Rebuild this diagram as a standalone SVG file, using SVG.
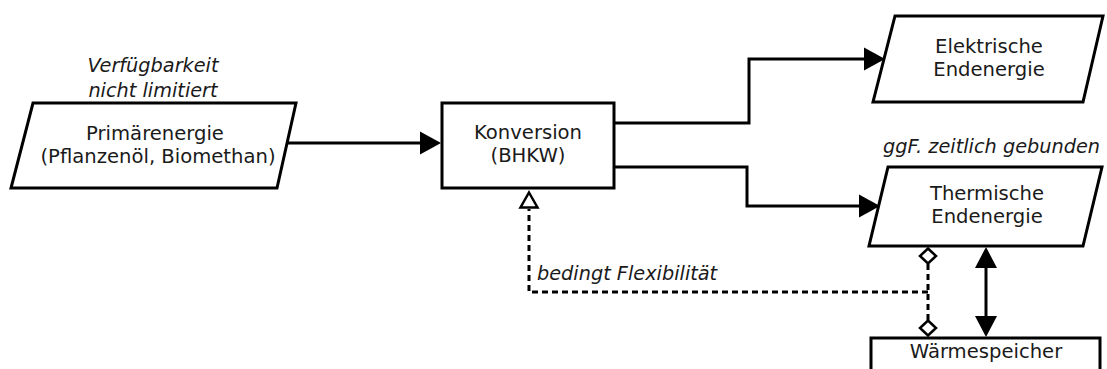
<svg xmlns="http://www.w3.org/2000/svg" width="1107" height="369" viewBox="0 0 1107 369">
  <style>
    .shape { fill: #ffffff; stroke: #000000; stroke-width: 3; stroke-linejoin: miter; }
    .label { font-family: "DejaVu Sans", "Liberation Sans", sans-serif; font-size: 19.6px; fill: #1a1a1a; text-anchor: middle; }
    .note { font-family: "DejaVu Sans", "Liberation Sans", sans-serif; font-size: 19.3px; font-style: italic; fill: #1a1a1a; }
    .flow { fill: none; stroke: #000000; stroke-width: 3; }
    .dep { fill: none; stroke: #000000; stroke-width: 3; stroke-dasharray: 6 4; }
    .head { fill: #000000; stroke: none; }
    .open { fill: #ffffff; stroke: #000000; stroke-width: 2.5; }
  </style>

  <!-- connectors -->
  <g id="connectors">
    <!-- primary energy into conversion -->
    <path class="flow" d="M287,143 H422"/>
    <polygon class="head" points="441,143 420,131.5 420,154.5"/>
    <!-- conversion to electrical end energy -->
    <path class="flow" d="M614,123 H749 V59 H866"/>
    <polygon class="head" points="885,59 864,47.5 864,70.5"/>
    <!-- conversion to thermal end energy -->
    <path class="flow" d="M614,167 H747 V206 H861"/>
    <polygon class="head" points="880,206 859,194.5 859,217.5"/>
    <!-- thermal end energy <-> heat storage -->
    <path class="flow" d="M986,266 V319"/>
    <polygon class="head" points="986,247 975,268 997,268"/>
    <polygon class="head" points="986,337 975,316 997,316"/>
    <!-- dependency back to conversion -->
    <path class="dep" d="M928,264 V320"/>
    <path class="dep" d="M928,292 H529 V209"/>
    <polygon class="open" points="529,192.5 537.5,207.5 520.5,207.5"/>
    <polygon class="open" points="928,248.5 936,256 928,263.5 920,256"/>
    <polygon class="open" points="928,320.5 936,328 928,335.5 920,328"/>
    <text class="note" x="537" y="280">bedingt Flexibilität</text>
  </g>

  <g id="primaerenergie">
    <text class="note" x="153" y="72" text-anchor="middle">Verfügbarkeit</text>
    <text class="note" x="153" y="97" text-anchor="middle">nicht limitiert</text>
    <polygon class="shape" points="33,103 296,103 277,188 11,188"/>
    <text class="label" x="155" y="140">Primärenergie</text>
    <text class="label" x="158" y="163">(Pflanzenöl, Biomethan)</text>
  </g>

  <g id="konversion">
    <rect class="shape" x="442" y="103" width="172" height="85"/>
    <text class="label" x="528" y="139">Konversion</text>
    <text class="label" x="528" y="162">(BHKW)</text>
  </g>

  <g id="elektrische-endenergie">
    <polygon class="shape" points="895,16 1103,16 1083,102 873,102"/>
    <text class="label" x="989" y="53">Elektrische</text>
    <text class="label" x="989" y="76">Endenergie</text>
  </g>

  <g id="thermische-endenergie">
    <text class="note" x="883" y="153">ggF. zeitlich gebunden</text>
    <polygon class="shape" points="888,167 1102,167 1083,246 869,246"/>
    <text class="label" x="987" y="200">Thermische</text>
    <text class="label" x="987" y="223">Endenergie</text>
  </g>

  <g id="waermespeicher">
    <rect class="shape" x="871" y="338" width="229" height="50"/>
    <text class="label" x="986" y="358">Wärmespeicher</text>
  </g>
</svg>
